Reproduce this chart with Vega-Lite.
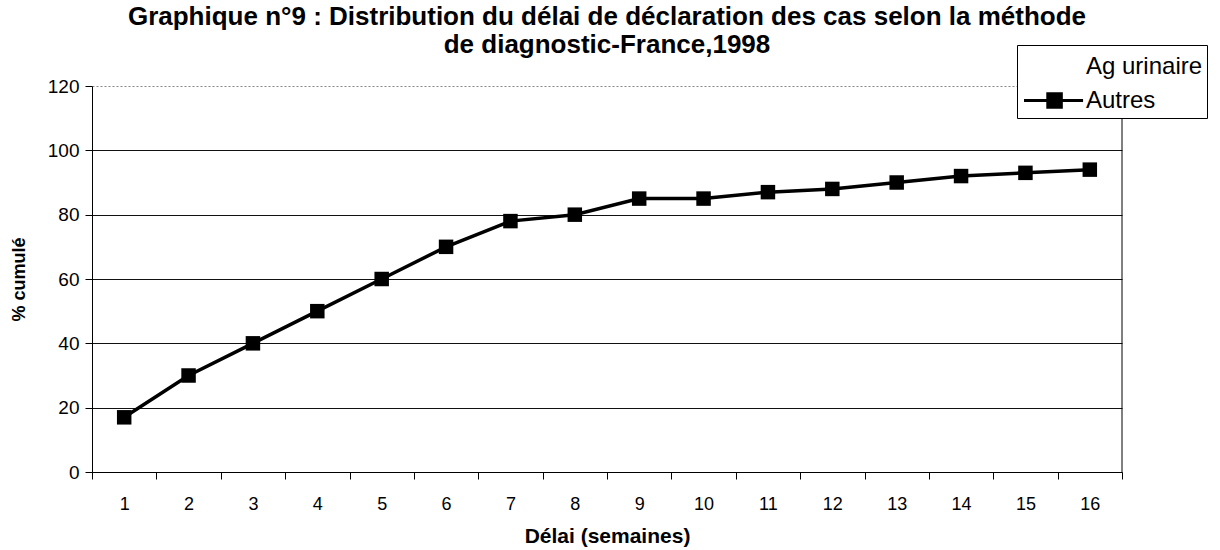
{
  "$schema": "https://vega.github.io/schema/vega-lite/v6.json",
  "width": 1030,
  "height": 386,
  "autosize": {"type": "none"},
  "padding": {"left": 92, "top": 86, "right": 98, "bottom": 78},
  "background": "white",
  "title": {
    "text": ["Graphique n°9 : Distribution du délai de déclaration des cas selon la méthode", "de diagnostic-France,1998"],
    "font": "Liberation Sans",
    "fontSize": 26,
    "fontWeight": "bold",
    "color": "black",
    "anchor": "middle",
    "lineHeight": 28,
    "offset": -13
  },
  "config": {
    "view": {"stroke": null},
    "font": "Liberation Sans"
  },
  "data": {
    "values": [
      {"semaine": 1, "pct": 17, "serie": "Autres"},
      {"semaine": 2, "pct": 30, "serie": "Autres"},
      {"semaine": 3, "pct": 40, "serie": "Autres"},
      {"semaine": 4, "pct": 50, "serie": "Autres"},
      {"semaine": 5, "pct": 60, "serie": "Autres"},
      {"semaine": 6, "pct": 70, "serie": "Autres"},
      {"semaine": 7, "pct": 78, "serie": "Autres"},
      {"semaine": 8, "pct": 80, "serie": "Autres"},
      {"semaine": 9, "pct": 85, "serie": "Autres"},
      {"semaine": 10, "pct": 85, "serie": "Autres"},
      {"semaine": 11, "pct": 87, "serie": "Autres"},
      {"semaine": 12, "pct": 88, "serie": "Autres"},
      {"semaine": 13, "pct": 90, "serie": "Autres"},
      {"semaine": 14, "pct": 92, "serie": "Autres"},
      {"semaine": 15, "pct": 93, "serie": "Autres"},
      {"semaine": 16, "pct": 94, "serie": "Autres"}
    ]
  },
  "encoding": {
    "x": {
      "field": "semaine",
      "type": "ordinal",
      "scale": {"type": "band", "paddingInner": 0, "paddingOuter": 0},
      "axis": {
        "title": "Délai (semaines)",
        "titleFontSize": 21,
        "titleFontWeight": "bold",
        "titleColor": "black",
        "titlePadding": 12,
        "labelAngle": 0,
        "labelFontSize": 18,
        "labelColor": "black",
        "labelPadding": 16,
        "tickBand": "extent",
        "tickSize": 7,
        "tickColor": "black",
        "domainColor": "black",
        "grid": false
      }
    },
    "y": {
      "field": "pct",
      "type": "quantitative",
      "scale": {"domain": [0, 120], "nice": false},
      "axis": {
        "title": "% cumulé",
        "titleFontSize": 18,
        "titleFontWeight": "bold",
        "titleColor": "black",
        "titlePadding": 19,
        "values": [0, 20, 40, 60, 80, 100, 120],
        "labelFontSize": 19,
        "labelColor": "black",
        "labelPadding": 6,
        "tickSize": 7,
        "tickColor": "black",
        "domainColor": "black",
        "grid": true,
        "gridColor": {"condition": {"test": "datum.value == 120", "value": "#888888"}, "value": "#111111"},
        "gridDash": {"condition": {"test": "datum.value == 120", "value": [2, 2]}, "value": []}
      }
    }
  },
  "layer": [
    {
      "mark": {"type": "line", "strokeWidth": 3.5},
      "encoding": {
        "color": {
          "field": "serie",
          "type": "nominal",
          "scale": {"domain": ["Ag urinaire", "Autres"], "range": ["transparent", "black"]},
          "legend": {
            "orient": "none",
            "legendX": 925,
            "legendY": -41,
            "title": null,
            "labelFontSize": 24,
            "labelFont": "Liberation Sans",
            "labelColor": "black",
            "labelOffset": 30,
            "strokeColor": "black",
            "fillColor": "white",
            "padding": 4,
            "rowPadding": 3,
            "symbolType": "M-0.92,0H2.83M0.59,-0.43H1.45V0.43H0.59Z",
            "symbolSize": 992,
            "symbolStrokeWidth": 3,
            "encode": {
              "symbols": {
                "update": {
                  "fill": {"scale": "color", "field": "value"},
                  "stroke": {"scale": "color", "field": "value"},
                  "strokeWidth": {"value": 3},
                  "opacity": {"value": 1}
                }
              }
            }
          }
        }
      }
    },
    {
      "mark": {"type": "point", "shape": "square", "filled": true, "size": 210, "opacity": 1},
      "encoding": {
        "color": {"field": "serie", "type": "nominal"}
      }
    },
    {
      "transform": [{"filter": "datum.semaine == 16"}],
      "mark": {"type": "rule", "color": "black", "strokeWidth": 1},
      "encoding": {
        "x": {"field": "semaine", "type": "ordinal", "bandPosition": 1},
        "y": {"datum": 0},
        "y2": {"datum": 120}
      }
    }
  ]
}
